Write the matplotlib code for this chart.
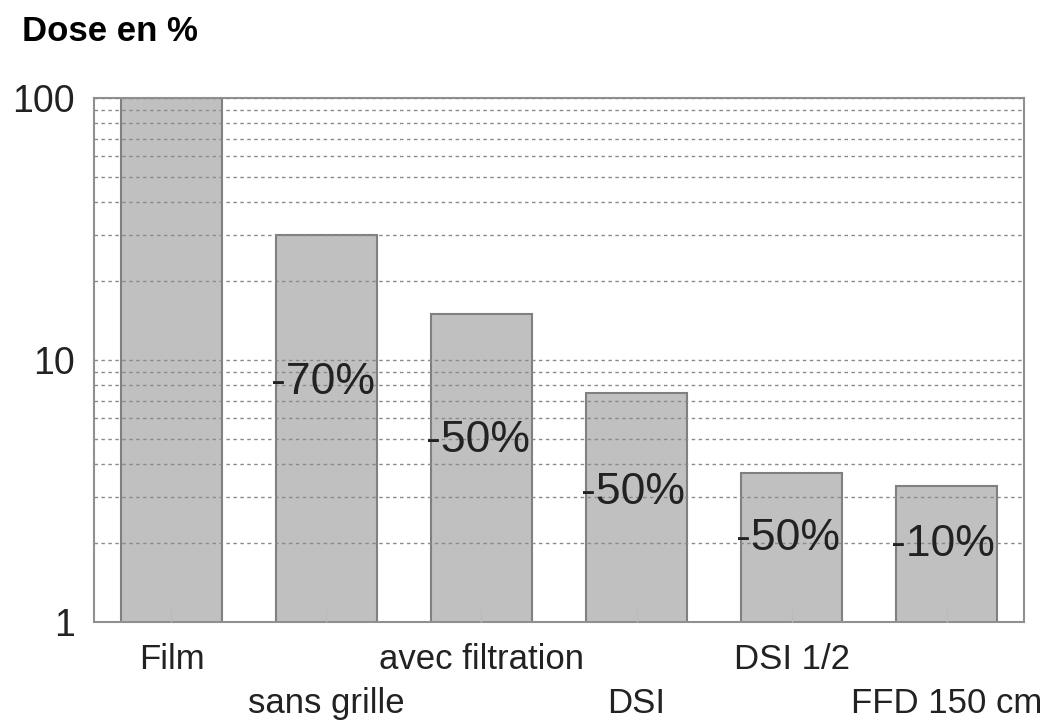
import numpy as np
import matplotlib
matplotlib.use("Agg")
import matplotlib.pyplot as plt
from matplotlib.ticker import LogLocator, NullFormatter, FixedLocator

plt.rcParams['font.family'] = ['Liberation Sans', 'DejaVu Sans']

categories = ['Film', 'sans grille', 'avec filtration', 'DSI', 'DSI 1/2', 'FFD 150 cm']
dose = [100, 30, 15, 7.5, 3.7, 3.3]
reductions = ['', '-70%', '-50%', '-50%', '-50%', '-10%']

# where the reduction texts sit (data units on the log axis)
label_y = [None, 8.2, 4.95, 3.13, 2.09, 1.97]

fig = plt.figure(figsize=(10.58, 7.22), dpi=100)
ax = fig.add_axes([0.0888, 0.1385, 0.8791, 0.7258])

x = np.arange(len(categories))
ax.bar(x, dose, width=0.65, bottom=0, color='#c0c0c0', edgecolor='#808080',
       linewidth=1.5, zorder=2)

ax.set_yscale('log')
ax.set_ylim(1, 100)
ax.set_xlim(-0.5, len(categories) - 0.5)

ax.yaxis.set_major_locator(FixedLocator([1, 10, 100]))
ax.yaxis.set_major_formatter(plt.FuncFormatter(lambda v, p: f'{v:g}'))
ax.yaxis.set_minor_locator(LogLocator(base=10, subs=np.arange(2, 10)))
ax.yaxis.set_minor_formatter(NullFormatter())
ax.grid(True, axis='y', which='both', linestyle=(0, (2.5, 2.5)), color='#8a8a8a',
        linewidth=1, zorder=1)
ax.tick_params(axis='y', which='both', length=0, pad=14, labelsize=27,
               labelcolor='#222222')

ax.set_xticks(x)
ax.set_xticklabels(categories, fontsize=25, color='#222222')
ax.tick_params(axis='x', direction='in', length=10, color='#bbbbbb', width=1)
for i, t in enumerate(ax.xaxis.get_major_ticks()):
    t.set_pad(15 if i % 2 == 0 else 47)
    t.tick1line.set_zorder(3)
ax.set_axisbelow(False)

for s in ax.spines.values():
    s.set_color('#909090')
    s.set_linewidth(1.5)

for i, (lbl, yy) in enumerate(zip(reductions, label_y)):
    if lbl:
        ax.text(i - 0.02, yy, lbl, ha='center', va='center', fontsize=32,
                color='#222222', zorder=4)

fig.text(0.021, 0.957, 'Dose en %', fontsize=25, fontweight='bold',
         ha='left', va='center')

fig.savefig('out.png', dpi=100)
